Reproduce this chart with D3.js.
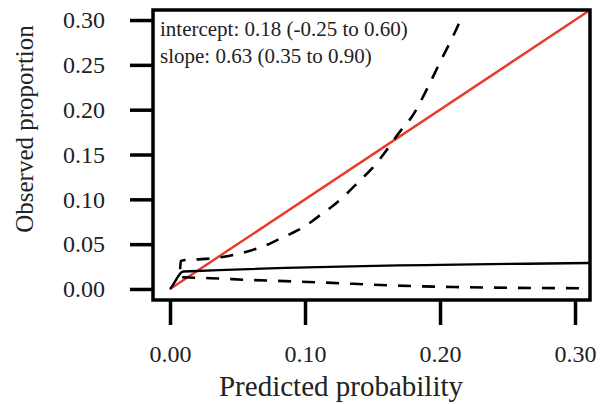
<!DOCTYPE html>
<html>
<head>
<meta charset="utf-8">
<script src="https://cdn.jsdelivr.net/npm/d3@7"></script>
<style>
  body { margin: 0; background: #fff; }
  text { font-family: "Liberation Serif", "DejaVu Serif", serif; fill: #222; }
</style>
</head>
<body>
<div id="chart"></div>
<script>
// calibration curve values
var xTicks = [0, 0.1, 0.2, 0.3];
var yTicks = [0, 0.05, 0.1, 0.15, 0.2, 0.25, 0.3];

var idealX = [0, 0.3111];

var fitX = [0, 0.002, 0.004, 0.006, 0.008, 0.010, 0.311];
var fitY = [0, 0.004, 0.009, 0.014, 0.018, 0.0195, 0.029];

var upperX = [0.0075, 0.008, 0.010, 0.020, 0.030, 0.040, 0.050, 0.060, 0.070, 0.080, 0.090, 0.100,
              0.110, 0.120, 0.130, 0.140, 0.150, 0.160, 0.170, 0.180, 0.190, 0.200, 0.210, 0.216];
var upperY = [0.022, 0.031, 0.032, 0.033, 0.034, 0.036, 0.039, 0.043, 0.048, 0.055, 0.062, 0.070,
              0.081, 0.092, 0.105, 0.120, 0.135, 0.154, 0.175, 0.194, 0.222, 0.253, 0.283, 0.303];

var lowerX = [0.009, 0.03, 0.06, 0.09, 0.12, 0.15, 0.18, 0.21, 0.24, 0.27, 0.311];
var lowerY = [0.013, 0.012, 0.010, 0.0085, 0.0068, 0.0048, 0.0032, 0.0022, 0.0015, 0.0011, 0.0008];

var labels = ["intercept: 0.18 (-0.25 to 0.60)", "slope: 0.63 (0.35 to 0.90)"];

var svgWidth = 600, svgHeight = 404;
var box = { left: 153, right: 590, top: 10, bottom: 300 };
var serif = "'Liberation Serif', 'DejaVu Serif', serif";

var svg = d3.select("#chart").append("svg")
    .attr("width", svgWidth)
    .attr("height", svgHeight);

var x = d3.scaleLinear().domain([-0.0126, 0.3111]).range([box.left, box.right]);
var y = d3.scaleLinear().domain([-0.0123, 0.3112]).range([box.bottom, box.top]);

function pairs(xs, ys) {
    return xs.map(function(d, i) { return [d, ys[i]]; });
}

var line = d3.line()
    .x(function(d) { return x(d[0]); })
    .y(function(d) { return y(d[1]); })
    .curve(d3.curveMonotoneX);

svg.append("clipPath").attr("id", "clip")
    .append("rect")
    .attr("x", box.left).attr("y", box.top)
    .attr("width", box.right - box.left)
    .attr("height", box.bottom - box.top);

var plot = svg.append("g").attr("clip-path", "url(#clip)");

plot.append("path")
    .datum(pairs(idealX, idealX))
    .attr("d", line)
    .attr("fill", "none")
    .attr("stroke", "#e8392b")
    .attr("stroke-width", 2.4);

plot.append("path")
    .datum(pairs(fitX, fitY))
    .attr("d", line)
    .attr("fill", "none")
    .attr("stroke", "#000")
    .attr("stroke-width", 2.4);

[pairs(upperX, upperY), pairs(lowerX, lowerY)].forEach(function(band) {
    plot.append("path")
        .datum(band)
        .attr("d", line)
        .attr("fill", "none")
        .attr("stroke", "#000")
        .attr("stroke-width", 2.6)
        .attr("stroke-dasharray", "13,11");
});

// frame
svg.append("rect")
    .attr("x", box.left).attr("y", box.top)
    .attr("width", box.right - box.left)
    .attr("height", box.bottom - box.top)
    .attr("fill", "none")
    .attr("stroke", "#000")
    .attr("stroke-width", 3.5);

var yAxis = svg.append("g")
    .attr("transform", "translate(" + box.left + ",0)")
    .call(d3.axisLeft(y).tickValues(yTicks).tickFormat(d3.format(".2f"))
        .tickSize(23).tickSizeOuter(0).tickPadding(25));

var xAxis = svg.append("g")
    .attr("transform", "translate(0," + box.bottom + ")")
    .call(d3.axisBottom(x).tickValues(xTicks).tickFormat(d3.format(".2f"))
        .tickSize(25).tickSizeOuter(0).tickPadding(20));

[yAxis, xAxis].forEach(function(g) {
    g.attr("font-family", serif).attr("font-size", 24);
    g.select(".domain").remove();
    g.selectAll(".tick line").attr("stroke", "#000").attr("stroke-width", 3.5);
    g.selectAll(".tick text").attr("fill", "#222");
});

svg.append("text")
    .attr("text-anchor", "middle")
    .attr("x", 341)
    .attr("y", 396)
    .style("font-size", "29px")
    .text("Predicted probability");

svg.append("text")
    .attr("text-anchor", "middle")
    .attr("transform", "rotate(-90)")
    .attr("x", -129)
    .attr("y", 33)
    .style("font-size", "25px")
    .text("Observed proportion");

svg.selectAll(".note")
    .data(labels)
    .enter()
    .append("text")
    .attr("class", "note")
    .attr("x", 160)
    .attr("y", function(d, i) { return 36 + i * 27; })
    .style("font-size", "21px")
    .text(function(d) { return d; });
</script>
</body>
</html>
